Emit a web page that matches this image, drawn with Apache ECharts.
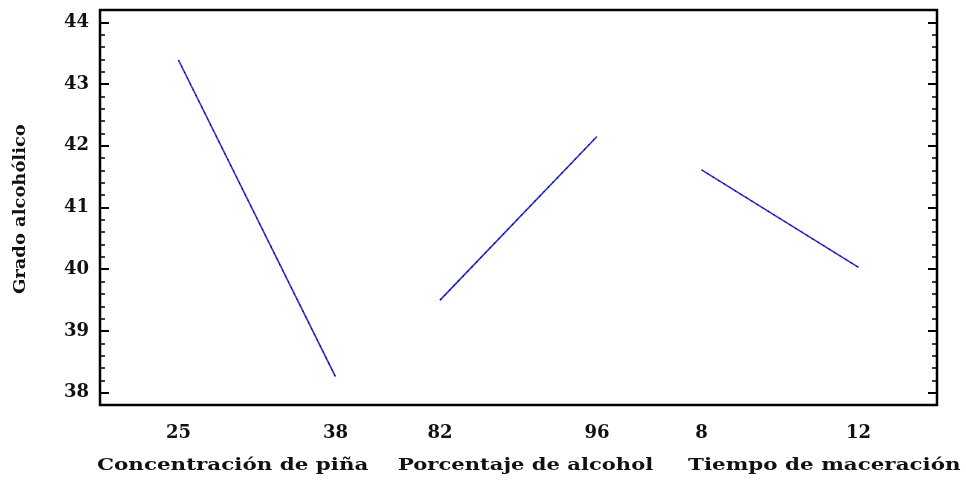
<!DOCTYPE html>
<html>
<head>
<meta charset="utf-8">
<script src="https://cdn.jsdelivr.net/npm/echarts@6/dist/echarts.min.js"></script>
<style>
  html, body { margin: 0; padding: 0; background: #fff; }
  #chart { width: 966px; height: 492px; }
</style>
</head>
<body>
<div id="chart"></div>
<script>
// Main effects on alcohol content: mean at low and high level of each factor
const factorNames = ['Concentración de piña', 'Porcentaje de alcohol', 'Tiempo de maceración'];
const levelLabels = [['25', '38'], ['82', '96'], ['8', '12']];
const lowMeans = [43.39, 39.50, 41.61];
const highMeans = [38.26, 42.15, 40.03];
const yMajorTicks = [38, 39, 40, 41, 42, 43, 44];
const yTitle = 'Grado alcohólico';

// Each factor sits at index i on a shared x scale, levels at i -/+ 0.3
const half = 0.3;
const levelPos = [];
const levelText = {};
factorNames.forEach((f, i) => {
  const lo = +(i - half).toFixed(2), hi = +(i + half).toFixed(2);
  levelPos.push(lo, hi);
  levelText[lo] = levelLabels[i][0];
  levelText[hi] = levelLabels[i][1];
});

const series = [];
factorNames.forEach((f, i) => {
  const pts = [[i - half, lowMeans[i]], [i + half, highMeans[i]]];
  series.push({
    type: 'line', name: f, symbol: 'none', silent: true,
    lineStyle: { color: '#2d2de8', width: 1.6 },
    data: pts
  });
  // dark stipple drawn along the same line
  series.push({
    type: 'line', name: f, symbol: 'none', silent: true,
    lineStyle: { color: '#111', width: 1.1, type: [1.5, 5] },
    data: pts
  });
});

const serif = '"DejaVu Serif", "Liberation Serif", serif';
const yMin = 37.8, yMax = 44.2;

function tickAxis(pos, major) {
  return {
    type: 'value', position: pos, min: yMin, max: yMax,
    interval: major ? undefined : 0.2,
    splitLine: { show: false },
    axisLine: { show: false, onZero: false },
    axisTick: major
      ? { show: true, inside: true, length: 9, lineStyle: { color: '#000', width: 2 }, customValues: yMajorTicks }
      : { show: true, inside: true, length: 5, lineStyle: { color: '#000', width: 1.5 } },
    axisLabel: (major && pos === 'left')
      ? { show: true, customValues: yMajorTicks, color: '#111', fontFamily: serif, fontWeight: 'bold', fontSize: 18, margin: 11 }
      : { show: false }
  };
}

const chart = echarts.init(document.getElementById('chart'), null, { renderer: 'canvas' });
chart.setOption({
  backgroundColor: '#fff',
  animation: false,
  grid: { left: 100, right: 29, top: 10, bottom: 87, show: true, borderColor: '#000', borderWidth: 2.5, backgroundColor: 'transparent' },
  xAxis: {
    type: 'value', min: -0.6, max: 2.6,
    splitLine: { show: false },
    axisLine: { show: false, onZero: false },
    axisTick: { show: false },
    axisLabel: {
      customValues: levelPos,
      formatter: v => levelText[+v.toFixed(2)] || '',
      color: '#111', fontFamily: serif, fontWeight: 'bold', fontSize: 18, margin: 19
    }
  },
  yAxis: [tickAxis('left', true), tickAxis('left', false), tickAxis('right', true), tickAxis('right', false)],
  graphic: [
    { type: 'text', left: 97, top: 457, scaleX: 1.26, style: { text: factorNames[0], font: 'bold 17px ' + serif, fill: '#111' } },
    { type: 'text', left: 398, top: 457, scaleX: 1.24, style: { text: factorNames[1], font: 'bold 17px ' + serif, fill: '#111' } },
    { type: 'text', left: 688, top: 457, scaleX: 1.26, style: { text: factorNames[2], font: 'bold 17px ' + serif, fill: '#111' } },
    { type: 'text', x: 13, y: 294, rotation: Math.PI / 2, scaleX: 1.12, style: { text: yTitle, font: 'bold 16px ' + serif, fill: '#111' } }
  ],
  series: series
});
</script>
</body>
</html>
